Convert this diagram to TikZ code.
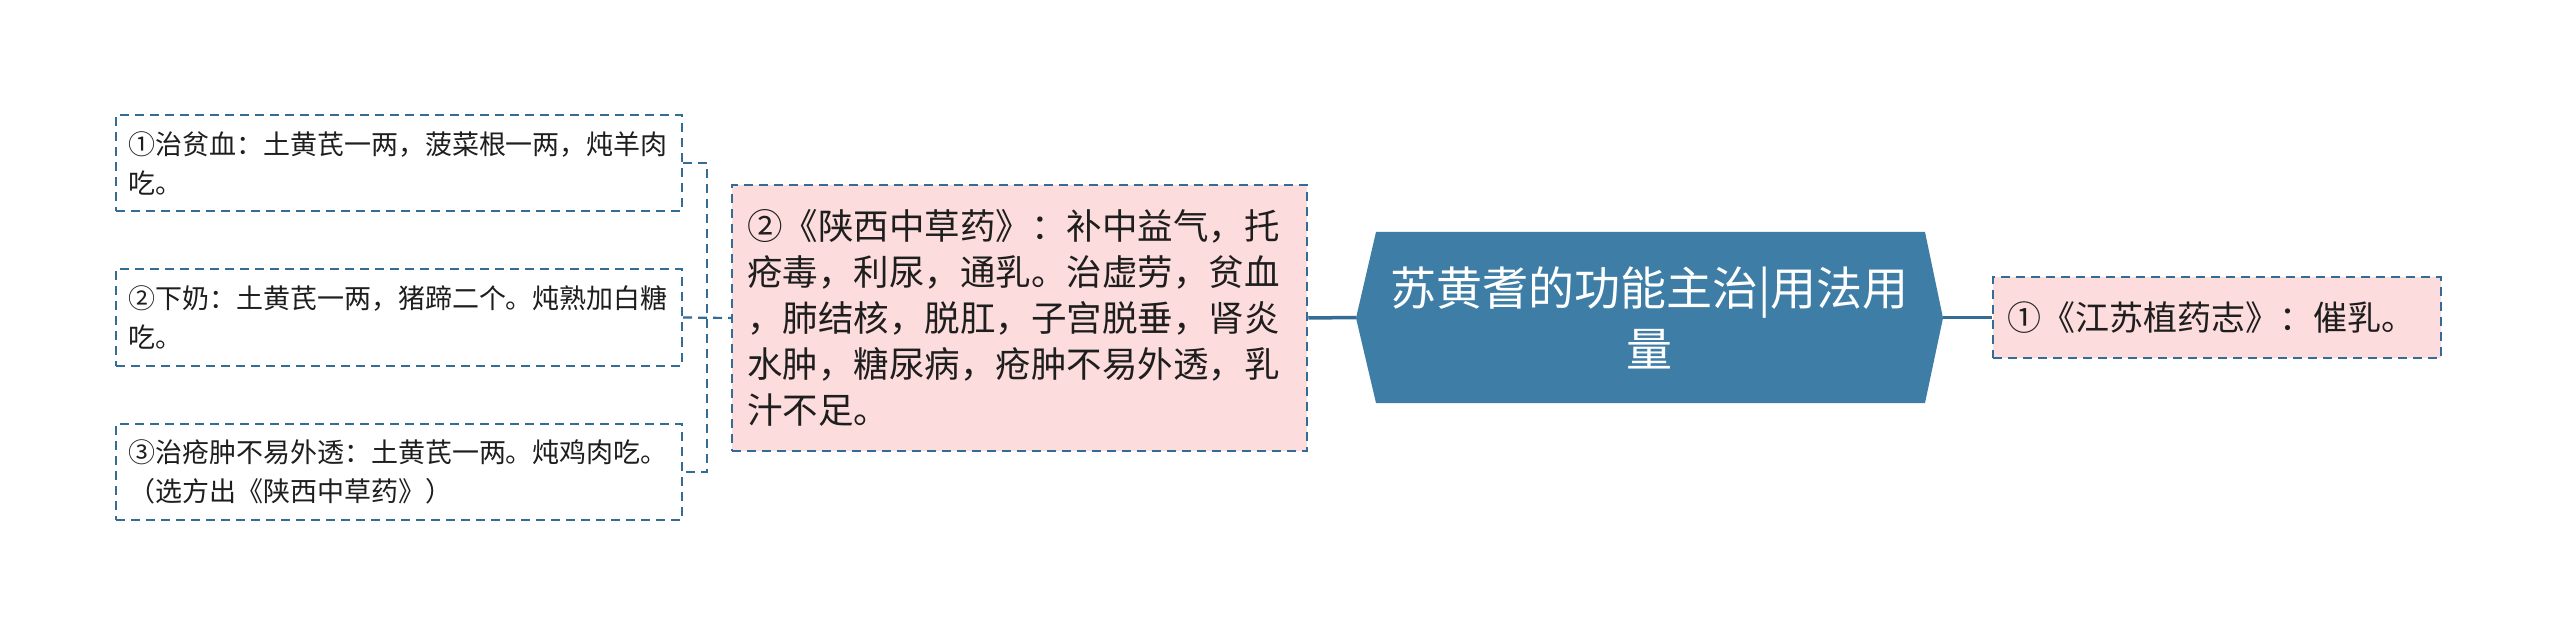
\documentclass[tikz,border=0pt]{standalone}
\usepackage{fontspec}
\setmainfont{Noto Sans CJK SC}
\definecolor{bl}{RGB}{52,108,150}
\definecolor{ctr}{RGB}{62,125,165}
\definecolor{pk}{RGB}{252,220,220}
\definecolor{tx}{RGB}{30,30,30}
\tikzset{
  leaf/.style={draw=bl, line width=2pt, dash pattern=on 9pt off 6pt, text=tx,
    font=\fontsize{27pt}{39pt}\selectfont, align=left, text width=542pt,
    inner xsep=12pt, inner ysep=0pt, minimum height=96pt},
  midbox/.style={draw=bl, fill=pk, line width=2.5pt, dash pattern=on 9pt off 6pt, text=tx,
    font=\fontsize{35.5pt}{46pt}\selectfont, align=left, text width=545pt,
    inner xsep=15pt, inner ysep=0pt, minimum height=266pt},
  rbox/.style={draw=bl, fill=pk, line width=2.5pt, dash pattern=on 9pt off 6pt, text=tx,
    font=\fontsize{34pt}{40pt}\selectfont, align=left, text width=420pt,
    inner xsep=14pt, inner ysep=0pt, minimum height=81pt},
  ctrbox/.style={text=white, font=\fontsize{46pt}{61pt}\selectfont, align=center,
    minimum width=587pt, minimum height=171pt, inner sep=0pt},
  brk/.style={draw=bl, line width=2.2pt, dash pattern=on 9pt off 6pt},
  conn/.style={draw=bl, line width=3.5pt}
}
\begin{document}
\begin{tikzpicture}[x=1pt,y=-1pt]
\useasboundingbox (0,0) rectangle (2560,636);
% left leaves
\node[leaf] (b1) at (399,163) {①治贫血：土黄芪一两，菠菜根一两，炖羊肉\\吃。};
\node[leaf] (b2) at (399,317.5) {②下奶：土黄芪一两，猪蹄二个。炖熟加白糖\\吃。};
\node[leaf] (b3) at (399,472) {③治疮肿不易外透：土黄芪一两。炖鸡肉吃。\\（选方出《陕西中草药》）};
% middle box
\node[midbox] (mid) at (1019.5,318) {②《陕西中草药》：补中益气，托\\疮毒，利尿，通乳。治虚劳，贫血\\，肺结核，脱肛，子宫脱垂，肾炎\\水肿，糖尿病，疮肿不易外透，乳\\汁不足。};
% center
\fill[ctr] (1356,318) -- (1376,232) -- (1925,232) -- (1943,318) -- (1925,403) -- (1376,403) -- cycle;
\node[ctrbox] (c) at (1649.5,317.5) {苏黄耆的功能主治|用法用\\量};
% right box
\node[rbox] (r) at (2217,317.5) {①《江苏植药志》：催乳。};
% connectors
\coordinate (j) at (707,318);
\draw[brk] (b1.east) -| (j) |- (b3.east);
\draw[brk] (b2.east) -- (mid.west);
\draw[conn] (mid.east) -- (c.west);
\draw[conn] (c.east) -- (r.west);
\end{tikzpicture}
\end{document}
